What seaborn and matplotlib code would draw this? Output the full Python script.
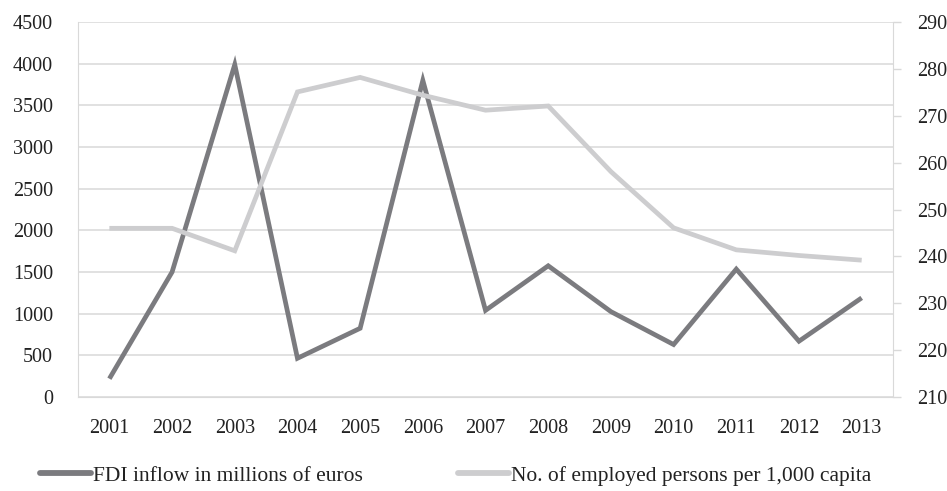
import numpy as np
import pandas as pd
import matplotlib
matplotlib.use("Agg")
import matplotlib.pyplot as plt
import seaborn as sns
from matplotlib.lines import Line2D

years = [2001, 2002, 2003, 2004, 2005, 2006, 2007, 2008, 2009, 2010, 2011, 2012, 2013]
fdi = [220, 1500, 3990, 465, 825, 3800, 1040, 1575, 1025, 630, 1535, 670, 1190]
employed = [246, 246, 241.2, 275.1, 278.2, 274.4, 271.2, 272.1, 258.1, 246.1, 241.4, 240.2, 239.2]

fdi_label = "FDI inflow in millions of euros"
emp_label = "No. of employed persons per 1,000 capita"

dark = "#7b7b7f"
light = "#cdcdcf"
grid_c = "#d9d9d9"

sns.set_style("white")
plt.rcParams['font.family'] = ['Liberation Serif', 'DejaVu Serif']

df = pd.DataFrame({"year": years, "fdi": fdi, "employed": employed})

fig = plt.figure(figsize=(9.47, 4.91), dpi=100)
ax = fig.add_axes([0.0824, 0.1914, 0.8606, 0.7636])
ax2 = ax.twinx()

sns.lineplot(data=df, x="year", y="fdi", ax=ax, color=dark, linewidth=3.4,
             solid_joinstyle="miter", solid_capstyle="butt")
sns.lineplot(data=df, x="year", y="employed", ax=ax2, color=light, linewidth=3.4,
             solid_joinstyle="miter", solid_capstyle="butt")

ax.set_xlim(2000.5, 2013.5)
ax.set_ylim(0, 4500)
ax.set_yticks(np.arange(0, 4501, 500))
ax.set_xticks(years)
ax.set_xticklabels([str(y) for y in years])
ax2.set_ylim(210, 290)
ax2.set_yticks(np.arange(210, 291, 10))

ax.yaxis.grid(True, color=grid_c, linewidth=1.1)
ax.set_axisbelow(True)
ax.set_xlabel("")
ax.set_ylabel("")
ax2.set_ylabel("")

for a in (ax, ax2):
    for s in a.spines.values():
        s.set_visible(False)
ax.spines['left'].set_visible(True)
ax.spines['left'].set_color(grid_c)
ax.spines['bottom'].set_visible(True)
ax.spines['bottom'].set_color(grid_c)
ax2.spines['right'].set_visible(True)
ax2.spines['right'].set_color(grid_c)

ax.tick_params(axis='y', length=0, pad=18, labelsize=14.5, labelcolor="#222222")
ax.tick_params(axis='x', length=0, pad=16, labelsize=14.5, labelcolor="#222222")
ax2.tick_params(axis='y', length=6, width=1, color=grid_c, pad=11, labelsize=14.5,
                labelcolor="#222222")

# legend below the plot, two entries on one row
handles = [Line2D([], [], color=dark, linewidth=4.2),
           Line2D([], [], color=light, linewidth=4.2)]
fig.legend(handles, [fdi_label, emp_label], loc="center left",
           bbox_to_anchor=(0.022, 0.031), ncol=2, frameon=False,
           fontsize=15.5, handlelength=2.35, handletextpad=0.12,
           columnspacing=4.4, labelcolor="#222222")

fig.savefig("out.png", dpi=100)
